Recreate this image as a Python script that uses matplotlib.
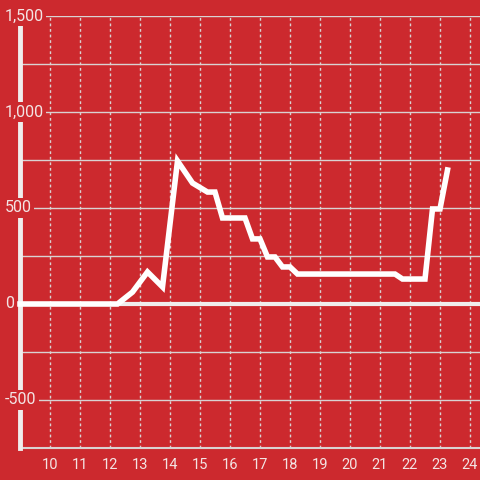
import matplotlib
matplotlib.use("Agg")
import matplotlib.pyplot as plt
from matplotlib.transforms import blended_transform_factory

hours = [9.0, 12.25, 12.75, 13.25, 13.75, 14.25, 14.75, 15.25, 15.5, 15.75, 16.5,
         16.75, 17.0, 17.25, 17.5, 17.75, 18.0, 18.25, 21.5, 21.75, 22.5, 22.75, 23.0, 23.25]
values = [0, 0, 62, 167, 89, 745, 630, 583, 583, 448, 448,
          339, 339, 245, 245, 193, 193, 156, 156, 130, 130, 495, 495, 698]
x_ticks = list(range(10, 25))
y_labels = [1500, 1000, 500, 0, -500]
y_grid = [1500, 1250, 1000, 750, 500, 250, -250, -500]

bg = '#cc292e'
txt = '#f3e4e4'
grid = '#d9d2d2'

plt.rcParams['font.family'] = ['Roboto', 'DejaVu Sans']
fig = plt.figure(figsize=(4.8, 4.8), dpi=100, facecolor=bg)
ax = fig.add_axes([20/480, 32/480, 460/480, 432/480], facecolor=bg)
ax.set_xlim(9.0, 9.0 + 460/30)
ax.set_ylim(-750, 1500)
for s in ax.spines.values():
    s.set_visible(False)
ax.set_yticks([])
ax.set_xticks(x_ticks)
ax.set_xticklabels([str(t) for t in x_ticks], color=txt, fontsize=10.5)
ax.tick_params(axis='x', length=0, pad=7)

for x in x_ticks:
    ax.axvline(x, color=grid, lw=1, ls=(0, (2, 2)), zorder=1)
for y in y_grid:
    ax.axhline(y, color=grid, lw=1, zorder=1)
ax.axhline(-750, color=grid, lw=1.5, zorder=2, clip_on=False)
ax.axhline(0, color='#f0eded', lw=3, zorder=2)
ax.axvline(9.0, color='#f0eded', lw=3.5, zorder=2, clip_on=False)

ax.plot(hours, values, color='white', lw=4, zorder=3, solid_joinstyle='miter', clip_on=False)

tr = blended_transform_factory(fig.dpi_scale_trans, ax.transData)
for y in y_labels:
    ax.text(5/100, y, f'{y:,}', ha='left', va='center', color=txt, fontsize=11.5,
            zorder=6, clip_on=False, transform=tr,
            bbox=dict(facecolor=bg, edgecolor='none', pad=1.5))

fig.savefig('out.png', dpi=100, facecolor=bg)
